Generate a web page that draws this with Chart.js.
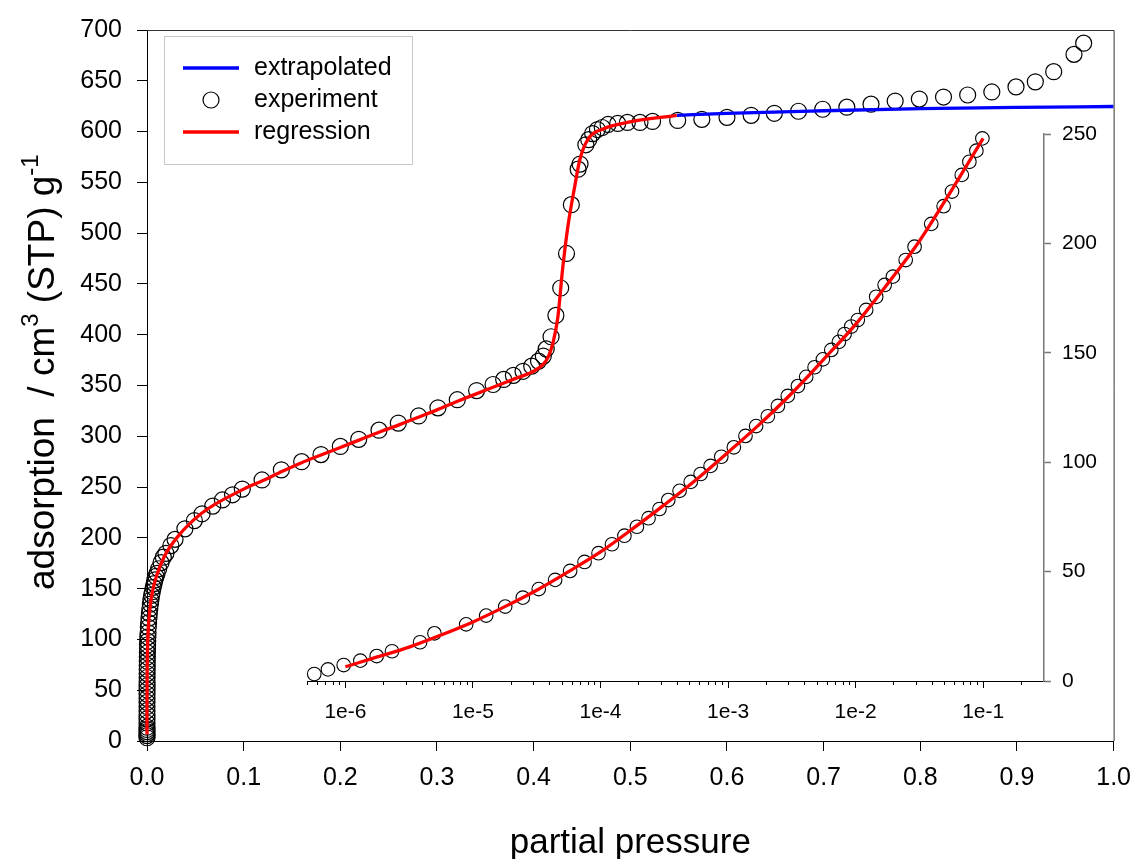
<!DOCTYPE html>
<html>
<head>
<meta charset="utf-8">
<title>adsorption isotherm</title>
<script src="https://cdn.jsdelivr.net/npm/chart.js@4.4.1/dist/chart.umd.min.js"></script>
<style>
  body { margin: 0; background: #fff; }
  #wrap { position: relative; width: 1143px; height: 859px; }
  #wrap canvas { position: absolute; left: 0; top: 0; }
  #insetChart { pointer-events: none; }
</style>
</head>
<body>
<div id="wrap">
  <canvas id="mainChart" width="1143" height="859"></canvas>
  <canvas id="insetChart" width="1143" height="859"></canvas>
</div>
<script>
// measured isotherm (partial pressure, adsorption in cm3 STP / g)
var expPressure = [
    5.7e-7, 7.3e-7, 9.7e-7, 1.31e-6, 1.76e-6, 2.32e-6, 3.85e-6, 4.99e-6, 8.85e-6, 1.27e-5,
    1.79e-5, 2.46e-5, 3.28e-5, 4.41e-5, 5.78e-5, 7.5e-5, 9.65e-5, 1.23e-4, 1.54e-4, 1.93e-4,
    2.38e-4, 2.9e-4, 3.4e-4, 4.17e-4, 5.1e-4, 6.1e-4, 7.3e-4, 8.85e-4, 1.11e-3, 1.37e-3,
    1.66e-3, 2.05e-3, 2.46e-3, 2.94e-3, 3.53e-3, 4.1e-3, 4.77e-3, 5.54e-3, 6.45e-3, 7.4e-3,
    8.2e-3, 9.25e-3, 1.04e-2, 1.21e-2, 1.45e-2, 1.69e-2, 1.96e-2, 2.47e-2, 2.9e-2, 3.92e-2,
    4.9e-2, 5.7e-2, 6.8e-2, 7.8e-2, 8.85e-2, 9.86e-2,
    0.119, 0.139, 0.160, 0.180, 0.200, 0.219, 0.240, 0.260, 0.281, 0.301,
    0.321, 0.341, 0.358, 0.369, 0.379, 0.389, 0.398, 0.405, 0.410, 0.413,
    0.418, 0.423, 0.428, 0.434, 0.439, 0.446, 0.448, 0.454, 0.457, 0.461,
    0.466, 0.471, 0.477, 0.487, 0.497, 0.510, 0.523, 0.549, 0.574, 0.600,
    0.625, 0.649, 0.674, 0.699, 0.724, 0.749, 0.774, 0.799, 0.824, 0.849,
    0.874, 0.899, 0.919, 0.938, 0.959, 0.969
];
var expAdsorption = [
    3.2, 5.3, 7.3, 9.3, 11.4, 13.6, 17.7, 21.8, 25.9, 29.9,
    34.0, 38.1, 42.0, 46.2, 50.3, 54.4, 58.4, 62.5, 66.4, 70.5,
    74.4, 78.6, 82.7, 86.9, 91.0, 94.6, 98.3, 102.5, 106.8, 112,
    116.5, 121, 125.7, 130.3, 134.8, 139, 143.4, 147, 151.3, 155,
    158.6, 162, 165, 169.6, 175.6, 181, 184.8, 192.4, 198.5, 208.9,
    217, 223.7, 231.3, 237.3, 242.4, 248,
    257, 267, 275, 282, 290, 297, 306, 313, 320, 328,
    336, 345, 351, 356, 360, 364, 369, 374, 379, 386,
    398, 419, 446, 480, 528, 563, 568, 587, 592, 598,
    602, 604, 607, 608, 609, 609, 610, 611, 612, 614,
    616, 618, 620, 622, 624, 627, 630, 632, 634, 636,
    639, 644, 649, 659, 676, 687
];

// regression curve
var fitPressure = [
    1e-6, 1.78e-6, 3.16e-6, 5.62e-6, 1e-5, 1.78e-5, 3.16e-5, 5.62e-5, 1e-4, 1.78e-4,
    3.16e-4, 5.62e-4, 1e-3, 1.78e-3, 3.16e-3, 5.62e-3, 1e-2, 1.78e-2, 3.16e-2, 5.62e-2,
    0.1, 0.12, 0.14, 0.16, 0.18, 0.2, 0.22, 0.24, 0.26, 0.28,
    0.3, 0.32, 0.34, 0.36, 0.38, 0.4, 0.41, 0.415, 0.42, 0.425,
    0.43, 0.4355, 0.4425, 0.4477, 0.456, 0.473, 0.497, 0.548
];
var fitAdsorption = [
    6.5, 11, 15.5, 21, 27, 34, 41.5, 50, 59, 69.5,
    80.5, 92, 104.5, 117.5, 131.5, 147, 163, 181.5, 201, 224,
    248, 256.5, 265.5, 274, 281.5, 289, 296.5, 304, 311, 318.5,
    326, 334, 341.5, 349, 356.5, 364, 371, 378, 392, 417,
    465, 507, 546, 572, 592, 603, 609, 616
];

// extrapolated part of the regression
var extPressure = [0.548, 0.6, 0.7, 0.8, 0.9, 1.0];
var extAdsorption = [616, 618, 620.5, 622.5, 623.8, 624.7];

// tick labels
var mainXTicks = [0, 0.1, 0.2, 0.3, 0.4, 0.5, 0.6, 0.7, 0.8, 0.9, 1.0];
var mainYTicks = [0, 50, 100, 150, 200, 250, 300, 350, 400, 450, 500, 550, 600, 650, 700];
var insetXTicks = [1e-6, 1e-5, 1e-4, 1e-3, 1e-2, 1e-1];
var insetXTickLabels = ['1e-6', '1e-5', '1e-4', '1e-3', '1e-2', '1e-1'];
var insetYTicks = [0, 50, 100, 150, 200, 250];

var xTitle = 'partial pressure';
var yTitleParts = [
    { text: 'adsorption  / cm' },
    { text: '3', sup: true },
    { text: ' (STP) g' },
    { text: '-1', sup: true }
];
var legendOrder = ['extrapolated', 'experiment', 'regression'];

var FONT = "'Liberation Sans', Arial, Helvetica, sans-serif";
Chart.defaults.font.family = FONT;
Chart.defaults.color = '#000';

function toPoints(xs, ys, maxX) {
    var pts = [];
    for (var i = 0; i < xs.length; i++) {
        if (maxX === undefined || xs[i] <= maxX) {
            pts.push({ x: xs[i], y: ys[i] });
        }
    }
    return pts;
}

function fixedTicks(values) {
    return function(scale) {
        scale.ticks = values.map(function(v) { return { value: v }; });
    };
}

// minor ticks of the log axis: 1..9 in each decade
var insetMinorTicks = [];
for (var d = -7; d <= -1; d++) {
    for (var m = 1; m <= 9; m++) {
        var v = m * Math.pow(10, d);
        if (v >= 5e-7 && v <= 0.3) insetMinorTicks.push(v);
    }
}

// top and right border of the main plot
var framePlugin = {
    id: 'frame',
    afterDraw: function(chart) {
        var a = chart.chartArea, ctx = chart.ctx;
        ctx.save();
        ctx.strokeStyle = '#333';
        ctx.lineWidth = 1;
        ctx.beginPath();
        ctx.moveTo(a.left, a.top + 0.5);
        ctx.lineTo(a.right + 0.5, a.top + 0.5);
        ctx.lineTo(a.right + 0.5, a.bottom);
        ctx.stroke();
        ctx.restore();
    }
};

// legend in a grey box, drawn from the dataset styles
var legendPlugin = {
    id: 'boxLegend',
    afterDraw: function(chart) {
        var ctx = chart.ctx;
        ctx.save();
        ctx.strokeStyle = '#c8c8c8';
        ctx.lineWidth = 1;
        ctx.strokeRect(164.5, 36.5, 248, 128);
        ctx.font = '25px ' + FONT;
        ctx.textBaseline = 'middle';
        legendOrder.forEach(function(label, i) {
            var ds = chart.data.datasets.filter(function(s) { return s.label === label; })[0];
            var y = 68 + i * 32;
            if (ds.showLine) {
                ctx.strokeStyle = ds.borderColor;
                ctx.lineWidth = ds.borderWidth;
                ctx.beginPath();
                ctx.moveTo(183, y);
                ctx.lineTo(239, y);
                ctx.stroke();
            } else {
                ctx.strokeStyle = ds.pointBorderColor;
                ctx.lineWidth = ds.pointBorderWidth;
                ctx.beginPath();
                ctx.arc(211, y, ds.pointRadius, 0, Math.PI * 2);
                ctx.stroke();
            }
            ctx.fillStyle = '#000';
            ctx.fillText(label, 254, y);
        });
        ctx.restore();
    }
};

// axis titles (y title has superscripts)
var titlePlugin = {
    id: 'axisTitles',
    afterDraw: function(chart) {
        var ctx = chart.ctx, a = chart.chartArea;
        ctx.save();
        ctx.fillStyle = '#000';
        ctx.font = '35px ' + FONT;
        ctx.textAlign = 'center';
        ctx.textBaseline = 'middle';
        ctx.fillText(xTitle, (a.left + a.right) / 2, 843);
        ctx.translate(54, 590);
        ctx.rotate(-Math.PI / 2);
        ctx.textAlign = 'left';
        ctx.textBaseline = 'alphabetic';
        var x = 0;
        yTitleParts.forEach(function(part) {
            ctx.font = (part.sup ? '24px ' : '37px ') + FONT;
            ctx.fillText(part.text, x, part.sup ? -16 : 0);
            x += ctx.measureText(part.text).width;
        });
        ctx.restore();
    }
};

var mainChart = new Chart(document.getElementById('mainChart'), {
    type: 'scatter',
    data: {
        datasets: [
            {
                label: 'regression',
                data: toPoints(fitPressure, fitAdsorption),
                showLine: true,
                borderColor: '#ff0000',
                borderWidth: 3.3,
                pointRadius: 0,
                cubicInterpolationMode: 'monotone',
                clip: false
            },
            {
                label: 'extrapolated',
                data: toPoints(extPressure, extAdsorption),
                showLine: true,
                borderColor: '#0000ff',
                borderWidth: 3.3,
                pointRadius: 0,
                cubicInterpolationMode: 'monotone'
            },
            {
                label: 'experiment',
                data: toPoints(expPressure, expAdsorption),
                showLine: false,
                pointRadius: 8,
                pointBorderWidth: 1.2,
                pointBorderColor: '#000',
                pointBackgroundColor: 'rgba(0,0,0,0)',
                clip: false
            }
        ]
    },
    options: {
        responsive: false,
        animation: false,
        events: [],
        layout: { padding: { top: 22, right: 25, left: 0, bottom: 0 } },
        plugins: { legend: { display: false }, tooltip: { enabled: false } },
        scales: {
            x: {
                type: 'linear',
                min: 0,
                max: 1,
                afterBuildTicks: fixedTicks(mainXTicks),
                afterFit: function(scale) { scale.height = 118; },
                ticks: {
                    font: { size: 25 },
                    padding: 12,
                    maxRotation: 0,
                    autoSkip: false,
                    callback: function(value) { return value.toFixed(1); }
                },
                grid: { drawOnChartArea: false, tickLength: 10, tickColor: '#000', tickWidth: 1 },
                border: { color: '#000', width: 1 }
            },
            y: {
                type: 'linear',
                min: 0,
                max: 700,
                afterBuildTicks: fixedTicks(mainYTicks),
                afterFit: function(scale) { scale.width = 147; },
                ticks: { font: { size: 25 }, padding: 15, autoSkip: false },
                grid: { drawOnChartArea: false, tickLength: 10, tickColor: '#000', tickWidth: 1 },
                border: { color: '#000', width: 1 }
            }
        }
    },
    plugins: [framePlugin, legendPlugin, titlePlugin]
});

// inset: same data on a logarithmic pressure axis
var insetChart = new Chart(document.getElementById('insetChart'), {
    type: 'scatter',
    data: {
        datasets: [
            {
                label: 'regression',
                data: toPoints(fitPressure, fitAdsorption, 0.1),
                showLine: true,
                borderColor: '#ff0000',
                borderWidth: 3.3,
                pointRadius: 0,
                cubicInterpolationMode: 'monotone'
            },
            {
                label: 'experiment',
                data: toPoints(expPressure, expAdsorption, 0.1),
                showLine: false,
                pointRadius: 6.8,
                pointBorderWidth: 1.1,
                pointBorderColor: '#000',
                pointBackgroundColor: 'rgba(0,0,0,0)',
                clip: false
            }
        ]
    },
    options: {
        responsive: false,
        animation: false,
        events: [],
        layout: { padding: { top: 134, right: 0, left: 307, bottom: 0 } },
        plugins: { legend: { display: false }, tooltip: { enabled: false } },
        scales: {
            xMinor: {
                type: 'logarithmic',
                position: 'bottom',
                weight: 0,
                min: 5e-7,
                max: 0.3,
                afterBuildTicks: fixedTicks(insetMinorTicks),
                afterFit: function(scale) { scale.height = 0; },
                ticks: { display: false },
                grid: { drawOnChartArea: false, tickLength: 4, tickColor: '#000', tickWidth: 1 },
                border: { color: '#000', width: 1 }
            },
            x: {
                type: 'logarithmic',
                position: 'bottom',
                weight: 1,
                min: 5e-7,
                max: 0.3,
                afterBuildTicks: fixedTicks(insetXTicks),
                afterFit: function(scale) { scale.height = 178; },
                ticks: {
                    font: { size: 21 },
                    padding: 12,
                    maxRotation: 0,
                    autoSkip: false,
                    callback: function(value) {
                        var i = insetXTicks.indexOf(value);
                        return i >= 0 ? insetXTickLabels[i] : '';
                    }
                },
                grid: { drawOnChartArea: false, tickLength: 7, tickColor: '#000', tickWidth: 1 },
                border: { color: '#000', width: 1 }
            },
            y: {
                type: 'linear',
                position: 'right',
                min: 0,
                max: 250,
                afterBuildTicks: fixedTicks(insetYTicks),
                afterFit: function(scale) { scale.width = 99; },
                ticks: { font: { size: 21 }, padding: 11, autoSkip: false },
                grid: { drawOnChartArea: false, tickLength: 7, tickColor: '#777', tickWidth: 1.5 },
                border: { color: '#777', width: 1.5 }
            }
        }
    }
});
</script>
</body>
</html>
